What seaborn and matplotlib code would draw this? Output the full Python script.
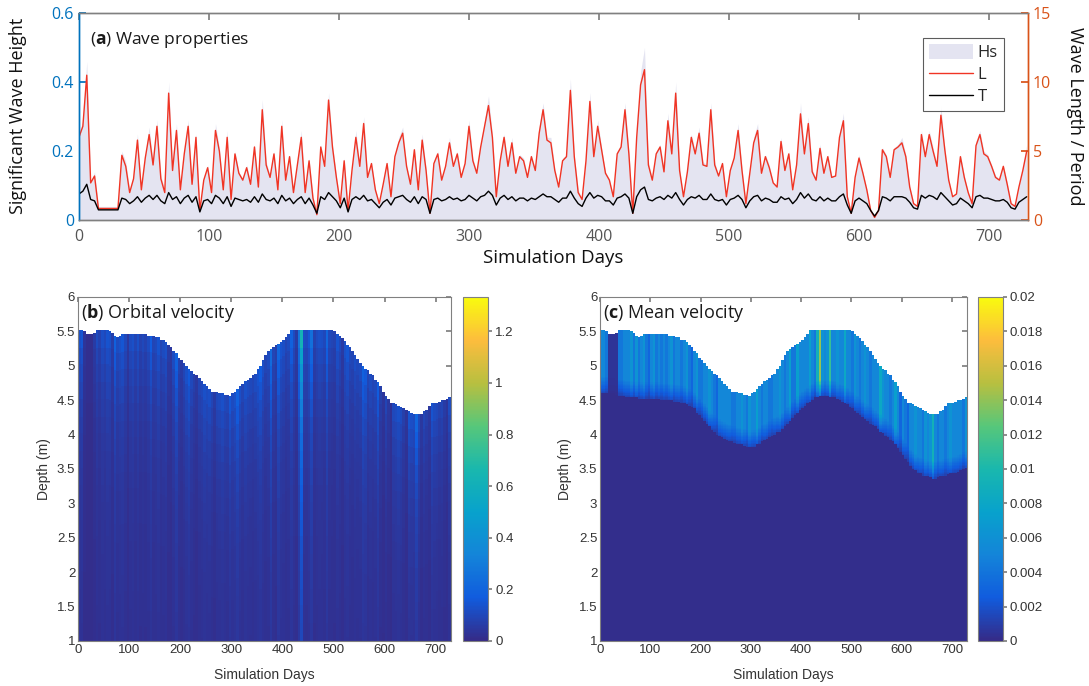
import numpy as np
import matplotlib
matplotlib.use("Agg")
import matplotlib.pyplot as plt
from matplotlib.colors import LinearSegmentedColormap
from matplotlib.patches import Patch
from matplotlib.lines import Line2D
from matplotlib.ticker import FuncFormatter, MultipleLocator
import seaborn as sns

wave_days = np.arange(0, 730, 3)

wave_length = [
    6.0, 6.8, 10.5, 2.7, 3.2, 0.85, 0.85, 0.85, 0.85, 0.85,
    0.85, 4.7, 3.9, 2.0, 3.0, 5.8, 2.2, 4.5, 6.2, 4.0,
    6.8, 3.0, 2.0, 9.2, 3.6, 6.5, 2.2, 4.8, 6.8, 2.6,
    6.0, 0.7, 2.9, 3.8, 2.0, 6.5, 5.0, 2.2, 6.0, 1.5,
    4.8, 3.4, 2.9, 3.8, 2.6, 5.3, 2.4, 8.0, 4.0, 3.1,
    4.8, 2.2, 6.8, 2.9, 4.6, 2.0, 4.0, 6.0, 2.0, 4.3,
    1.6, 0.4, 5.3, 3.9, 8.7, 5.3, 3.1, 1.2, 4.3, 0.7,
    3.6, 6.0, 3.9, 7.0, 3.1, 4.1, 2.2, 1.2, 2.6, 4.1,
    1.7, 4.6, 5.6, 6.3, 3.9, 2.6, 5.1, 2.2, 5.8, 3.6,
    0.5, 4.1, 4.8, 2.9, 3.9, 5.6, 3.9, 4.8, 3.1, 4.1,
    6.8, 4.3, 3.4, 5.3, 6.8, 8.3, 6.0, 1.7, 4.3, 6.0,
    3.9, 5.6, 3.4, 4.6, 4.3, 3.1, 4.6, 3.6, 6.3, 8.0,
    5.8, 5.6, 3.6, 2.4, 4.3, 4.6, 9.4, 4.6, 2.0, 1.5,
    4.3, 8.6, 4.6, 6.8, 5.1, 3.4, 2.9, 1.7, 4.8, 5.3,
    8.0, 4.8, 0.5, 6.0, 9.8, 10.9, 4.0, 2.9, 4.8, 5.3,
    3.5, 7.2, 4.8, 9.2, 3.6, 1.7, 3.5, 6.0, 4.8, 6.3,
    4.0, 3.9, 8.0, 4.0, 3.2, 4.1, 1.7, 3.6, 4.5, 6.5,
    3.6, 1.2, 3.4, 5.6, 6.5, 3.4, 4.6, 3.8, 2.7, 2.4,
    5.7, 3.6, 4.8, 2.2, 4.0, 7.7, 4.8, 7.0, 3.5, 2.9,
    5.2, 3.4, 4.6, 3.1, 3.2, 6.0, 7.2, 1.7, 0.5, 3.1,
    4.5, 3.4, 2.2, 0.7, 0.2, 0.7, 5.1, 4.6, 3.1, 5.1,
    5.3, 5.6, 4.6, 2.4, 1.2, 1.0, 6.2, 4.6, 6.2, 5.0,
    3.9, 7.6, 5.1, 2.9, 1.7, 1.9, 4.6, 3.1, 2.0, 1.2,
    5.4, 6.2, 4.8, 4.6, 3.9, 3.1, 2.9, 3.9, 2.6, 1.2,
    1.0, 2.4, 3.6, 5.0,
]

wave_period = [
    1.9, 2.1, 2.6, 1.5, 1.4, 0.75, 0.75, 0.75, 0.75, 0.75,
    0.75, 1.6, 1.5, 1.2, 1.4, 1.7, 1.3, 1.6, 1.8, 1.5,
    1.8, 1.4, 1.2, 2.0, 1.5, 1.7, 1.2, 1.6, 1.8, 1.3,
    1.7, 0.6, 1.4, 1.5, 1.2, 1.8, 1.6, 1.2, 1.7, 1.0,
    1.6, 1.5, 1.4, 1.5, 1.3, 1.7, 1.3, 1.9, 1.5, 1.4,
    1.6, 1.2, 1.8, 1.4, 1.6, 1.2, 1.5, 1.7, 1.2, 1.6,
    1.1, 0.5, 1.7, 1.5, 2.0, 1.7, 1.4, 0.9, 1.6, 0.6,
    1.5, 1.7, 1.5, 1.8, 1.4, 1.5, 1.2, 0.9, 1.3, 1.5,
    1.1, 1.6, 1.7, 1.8, 1.5, 1.3, 1.7, 1.2, 1.7, 1.5,
    0.5, 1.5, 1.6, 1.4, 1.5, 1.7, 1.5, 1.6, 1.4, 1.5,
    1.8, 1.6, 1.4, 1.7, 1.8, 2.1, 1.8, 1.1, 1.6, 1.8,
    1.5, 1.7, 1.4, 1.6, 1.6, 1.4, 1.6, 1.5, 1.7, 1.9,
    1.7, 1.7, 1.5, 1.3, 1.6, 1.6, 2.1, 1.6, 1.2, 1.0,
    1.6, 2.0, 1.6, 1.8, 1.7, 1.4, 1.4, 1.1, 1.6, 1.7,
    1.9, 1.6, 0.5, 1.7, 2.2, 2.4, 1.5, 1.4, 1.6, 1.7,
    1.5, 1.8, 1.6, 2.0, 1.5, 1.1, 1.5, 1.7, 1.6, 1.8,
    1.5, 1.5, 1.9, 1.5, 1.4, 1.5, 1.1, 1.5, 1.6, 1.8,
    1.5, 0.9, 1.4, 1.7, 1.8, 1.4, 1.6, 1.5, 1.3, 1.3,
    1.7, 1.5, 1.6, 1.2, 1.5, 2.0, 1.6, 1.9, 1.5, 1.4,
    1.7, 1.4, 1.6, 1.4, 1.4, 1.7, 1.9, 1.1, 0.5, 1.4,
    1.6, 1.4, 1.2, 0.7, 0.3, 0.7, 1.7, 1.6, 1.4, 1.7,
    1.7, 1.7, 1.6, 1.3, 0.9, 0.8, 1.8, 1.6, 1.8, 1.7,
    1.5, 2.0, 1.7, 1.4, 1.1, 1.2, 1.6, 1.4, 1.2, 0.9,
    1.7, 1.8, 1.6, 1.6, 1.5, 1.4, 1.4, 1.5, 1.3, 0.9,
    0.8, 1.3, 1.5, 1.7,
]

wave_height = [
    0.25, 0.29, 0.46, 0.11, 0.14, 0.04, 0.04, 0.04, 0.04, 0.04,
    0.04, 0.20, 0.17, 0.09, 0.13, 0.25, 0.09, 0.19, 0.27, 0.17,
    0.29, 0.13, 0.09, 0.40, 0.15, 0.28, 0.09, 0.20, 0.29, 0.11,
    0.25, 0.03, 0.12, 0.16, 0.09, 0.28, 0.21, 0.09, 0.26, 0.06,
    0.20, 0.14, 0.12, 0.16, 0.11, 0.22, 0.10, 0.35, 0.17, 0.13,
    0.20, 0.09, 0.29, 0.12, 0.19, 0.09, 0.17, 0.26, 0.09, 0.18,
    0.07, 0.02, 0.22, 0.16, 0.37, 0.22, 0.13, 0.05, 0.18, 0.03,
    0.15, 0.26, 0.16, 0.30, 0.13, 0.17, 0.09, 0.05, 0.11, 0.17,
    0.07, 0.19, 0.24, 0.27, 0.16, 0.11, 0.21, 0.09, 0.25, 0.15,
    0.02, 0.17, 0.20, 0.12, 0.16, 0.24, 0.16, 0.20, 0.13, 0.17,
    0.29, 0.18, 0.14, 0.22, 0.29, 0.36, 0.25, 0.07, 0.18, 0.25,
    0.16, 0.24, 0.14, 0.19, 0.18, 0.13, 0.19, 0.15, 0.27, 0.34,
    0.24, 0.24, 0.15, 0.10, 0.18, 0.19, 0.41, 0.19, 0.09, 0.06,
    0.18, 0.37, 0.19, 0.29, 0.21, 0.14, 0.12, 0.07, 0.20, 0.22,
    0.34, 0.20, 0.02, 0.25, 0.43, 0.50, 0.17, 0.12, 0.20, 0.22,
    0.15, 0.31, 0.20, 0.40, 0.15, 0.07, 0.15, 0.25, 0.20, 0.27,
    0.17, 0.16, 0.34, 0.17, 0.13, 0.17, 0.07, 0.15, 0.19, 0.28,
    0.15, 0.05, 0.14, 0.24, 0.28, 0.14, 0.19, 0.16, 0.11, 0.10,
    0.24, 0.15, 0.20, 0.09, 0.17, 0.34, 0.20, 0.30, 0.15, 0.12,
    0.22, 0.14, 0.19, 0.13, 0.13, 0.25, 0.31, 0.07, 0.02, 0.13,
    0.19, 0.14, 0.09, 0.03, 0.01, 0.03, 0.21, 0.19, 0.13, 0.21,
    0.22, 0.24, 0.19, 0.10, 0.05, 0.04, 0.26, 0.19, 0.26, 0.21,
    0.16, 0.33, 0.21, 0.12, 0.07, 0.08, 0.19, 0.13, 0.08, 0.05,
    0.23, 0.26, 0.20, 0.19, 0.16, 0.13, 0.12, 0.16, 0.11, 0.05,
    0.04, 0.10, 0.15, 0.22,
]

# ---------------- (b)/(c) velocity profiles, 5-day columns ----------------
col_edges = np.arange(0, 735, 5)

# water surface (m) per column
surface_level = [
    5.51, 5.51, 5.50, 5.47, 5.46, 5.47, 5.48, 5.51, 5.51, 5.51,
    5.51, 5.51, 5.50, 5.48, 5.44, 5.42, 5.43, 5.45, 5.46, 5.46,
    5.46, 5.46, 5.46, 5.46, 5.46, 5.45, 5.45, 5.44, 5.44, 5.43,
    5.42, 5.41, 5.39, 5.37, 5.34, 5.31, 5.27, 5.22, 5.17, 5.12,
    5.07, 5.03, 4.99, 4.95, 4.91, 4.88, 4.85, 4.82, 4.78, 4.74,
    4.69, 4.65, 4.63, 4.62, 4.61, 4.60, 4.59, 4.58, 4.57, 4.56,
    4.59, 4.62, 4.66, 4.69, 4.73, 4.77, 4.80, 4.82, 4.85, 4.88,
    4.95, 5.00, 5.08, 5.15, 5.21, 5.24, 5.27, 5.29, 5.32, 5.34,
    5.38, 5.42, 5.47, 5.51, 5.51, 5.51, 5.51, 5.51, 5.51, 5.51,
    5.51, 5.51, 5.51, 5.51, 5.51, 5.51, 5.51, 5.51, 5.51, 5.51,
    5.50, 5.47, 5.44, 5.40, 5.36, 5.31, 5.27, 5.22, 5.16, 5.10,
    5.04, 5.00, 4.97, 4.93, 4.89, 4.85, 4.80, 4.75, 4.69, 4.62,
    4.56, 4.52, 4.47, 4.45, 4.43, 4.42, 4.40, 4.38, 4.36, 4.33,
    4.32, 4.31, 4.30, 4.30, 4.31, 4.33, 4.36, 4.42, 4.45, 4.46,
    4.47, 4.48, 4.49, 4.50, 4.52, 4.54,
]

# orbital velocity near the surface (m/s) per column
orbital_top = [
    0.12, 0.14, 0.03, 0.01, 0.01, 0.01, 0.05, 0.10, 0.07, 0.11,
    0.09, 0.13, 0.12, 0.06, 0.18, 0.10, 0.12, 0.14, 0.09, 0.04,
    0.10, 0.12, 0.08, 0.12, 0.07, 0.09, 0.07, 0.10, 0.16, 0.08,
    0.09, 0.13, 0.08, 0.10, 0.12, 0.05, 0.04, 0.10, 0.18, 0.07,
    0.05, 0.08, 0.12, 0.15, 0.09, 0.06, 0.04, 0.08, 0.09, 0.12,
    0.10, 0.11, 0.08, 0.05, 0.09, 0.10, 0.12, 0.09, 0.08, 0.14,
    0.10, 0.12, 0.18, 0.11, 0.08, 0.12, 0.10, 0.09, 0.08, 0.10,
    0.13, 0.16, 0.11, 0.08, 0.10, 0.22, 0.08, 0.06, 0.20, 0.13,
    0.11, 0.08, 0.10, 0.18, 0.10, 0.05, 0.26, 0.62, 0.11, 0.10,
    0.14, 0.24, 0.07, 0.10, 0.12, 0.11, 0.09, 0.20, 0.09, 0.08,
    0.07, 0.13, 0.09, 0.05, 0.12, 0.14, 0.09, 0.08, 0.11, 0.09,
    0.10, 0.18, 0.15, 0.08, 0.10, 0.08, 0.09, 0.16, 0.06, 0.03,
    0.08, 0.04, 0.02, 0.09, 0.10, 0.12, 0.10, 0.06, 0.03, 0.13,
    0.11, 0.10, 0.20, 0.09, 0.04, 0.08, 0.06, 0.04, 0.13, 0.10,
    0.09, 0.07, 0.08, 0.05, 0.03, 0.10,
]
# relative orbital velocity per 0.25 m below the surface
orbital_decay = [1.0, 0.82, 0.68, 0.57, 0.48, 0.41, 0.36, 0.32, 0.29, 0.26,
                 0.24, 0.22, 0.20, 0.19, 0.18, 0.17, 0.16, 0.15, 0.14, 0.13]

# mean velocity in the surface band (m/s) per column
mean_top = [
    0.005, 0.005, 0.004, 0.0003, 0.0003, 0.0003, 0.0003, 0.004, 0.004, 0.005,
    0.005, 0.005, 0.006, 0.004, 0.006, 0.004, 0.005, 0.006, 0.004, 0.003,
    0.005, 0.006, 0.004, 0.005, 0.004, 0.005, 0.004, 0.005, 0.006, 0.004,
    0.005, 0.005, 0.004, 0.005, 0.006, 0.004, 0.003, 0.005, 0.006, 0.004,
    0.004, 0.005, 0.005, 0.006, 0.005, 0.004, 0.003, 0.005, 0.005, 0.005,
    0.005, 0.005, 0.004, 0.004, 0.005, 0.005, 0.006, 0.005, 0.004, 0.006,
    0.005, 0.005, 0.007, 0.005, 0.004, 0.005, 0.005, 0.004, 0.004, 0.005,
    0.005, 0.006, 0.005, 0.004, 0.005, 0.007, 0.004, 0.004, 0.007, 0.005,
    0.005, 0.005, 0.005, 0.007, 0.005, 0.004, 0.009, 0.014, 0.006, 0.005,
    0.006, 0.011, 0.005, 0.005, 0.006, 0.005, 0.005, 0.008, 0.005, 0.005,
    0.004, 0.006, 0.005, 0.004, 0.005, 0.006, 0.005, 0.004, 0.005, 0.005,
    0.005, 0.008, 0.006, 0.005, 0.005, 0.004, 0.005, 0.007, 0.005, 0.003,
    0.005, 0.004, 0.003, 0.005, 0.005, 0.006, 0.005, 0.005, 0.004, 0.006,
    0.005, 0.006, 0.009, 0.005, 0.004, 0.005, 0.005, 0.004, 0.005, 0.006,
    0.005, 0.005, 0.005, 0.005, 0.004, 0.006,
]

# lower edge (m) of the mean-velocity band per column
mean_band_bottom = [
    4.60, 4.60, 4.60, 4.60, 4.60, 4.60, 4.58, 4.57, 4.56, 4.56,
    4.55, 4.55, 4.54, 4.53, 4.53, 4.52, 4.52, 4.52, 4.52, 4.52,
    4.52, 4.52, 4.52, 4.52, 4.51, 4.51, 4.50, 4.50, 4.50, 4.49,
    4.49, 4.48, 4.47, 4.46, 4.44, 4.42, 4.40, 4.37, 4.33, 4.29,
    4.25, 4.21, 4.16, 4.11, 4.07, 4.04, 4.01, 3.98, 3.96, 3.94,
    3.92, 3.91, 3.89, 3.88, 3.87, 3.86, 3.85, 3.84, 3.83, 3.82,
    3.82, 3.83, 3.85, 3.87, 3.90, 3.92, 3.94, 3.96, 3.99, 4.01,
    4.03, 4.05, 4.08, 4.12, 4.16, 4.20, 4.24, 4.28, 4.32, 4.36,
    4.39, 4.42, 4.45, 4.48, 4.51, 4.53, 4.55, 4.56, 4.56, 4.56,
    4.56, 4.55, 4.55, 4.54, 4.52, 4.50, 4.48, 4.46, 4.44, 4.41,
    4.38, 4.35, 4.32, 4.29, 4.26, 4.23, 4.20, 4.17, 4.14, 4.11,
    4.08, 4.05, 4.02, 3.99, 3.96, 3.92, 3.89, 3.85, 3.80, 3.75,
    3.70, 3.65, 3.60, 3.55, 3.51, 3.48, 3.45, 3.43, 3.41, 3.40,
    3.39, 3.38, 3.37, 3.37, 3.38, 3.39, 3.40, 3.41, 3.42, 3.43,
    3.44, 3.45, 3.46, 3.48, 3.50, 3.52,
]

# MATLAB-like parula colormap
parula = LinearSegmentedColormap.from_list("parula", [
    (0.000, (0.2081, 0.1663, 0.5292)),
    (0.125, (0.0650, 0.3600, 0.8700)),
    (0.250, (0.0780, 0.5200, 0.8500)),
    (0.375, (0.0300, 0.6350, 0.8000)),
    (0.500, (0.1000, 0.7200, 0.6800)),
    (0.625, (0.3400, 0.7800, 0.4800)),
    (0.750, (0.7200, 0.7500, 0.2500)),
    (0.875, (0.9900, 0.7400, 0.2400)),
    (1.000, (0.9763, 0.9831, 0.0538)),
])

BLUE = "#0072BD"
ORANGE = "#D95319"
GRAY = "#808080"
MYRIAD = ["Open Sans", "DejaVu Sans"]
ARIAL = ["Liberation Sans", "DejaVu Sans"]

sns.set_theme(style="white")
plt.rcParams["font.family"] = MYRIAD
plt.rcParams["mathtext.fontset"] = "custom"
plt.rcParams["mathtext.rm"] = "Open Sans"
plt.rcParams["mathtext.bf"] = "Open Sans:bold"

fmt = FuncFormatter(lambda v, p: f"{v:g}")

fig = plt.figure(figsize=(10.89, 6.86), dpi=100)

# ---------------- panel (a) ----------------
ax = fig.add_axes([0.0725, 0.679, 0.8715, 0.302])
ax2 = ax.twinx()
ax.fill_between(wave_days, 0, wave_height, color="#e4e4f1", lw=0)
sns.lineplot(x=wave_days, y=wave_length, ax=ax2, color="#f03424", lw=1.0)
sns.lineplot(x=wave_days, y=wave_period, ax=ax2, color="black", lw=1.0)

ax.set_xlim(0, 730)
ax.set_ylim(0, 0.6)
ax2.set_ylim(0, 15)
ax.set_xticks(range(0, 701, 100))
ax.set_yticks([0, 0.2, 0.4, 0.6])
ax2.set_yticks([0, 5, 10, 15])
ax.yaxis.set_major_formatter(fmt)
ax.set_xlabel("")
ax2.set_xlabel("")
ax.set_ylabel("")
ax2.set_ylabel("")
ax.tick_params(axis="x", direction="in", length=5, top=True, colors=GRAY,
               labelcolor="#555555", labelsize=11.5, pad=6)
ax.tick_params(axis="y", direction="in", length=5, colors=BLUE, labelsize=11.5)
ax2.tick_params(axis="y", direction="in", length=5, colors=ORANGE, labelsize=11.5)
for a in (ax, ax2):
    a.spines["top"].set_color(GRAY)
    a.spines["bottom"].set_color(GRAY)
    a.spines["left"].set_color(BLUE)
    a.spines["right"].set_color(ORANGE)
    for s in a.spines.values():
        s.set_linewidth(1.0)

ax.text(0.012, 0.92, r"($\mathbf{a}$) Wave properties", transform=ax.transAxes,
        fontsize=12.5, va="top", ha="left", color="#1a1a1a")

handles = [Patch(facecolor="#e4e4f1", edgecolor="none", label="Hs"),
           Line2D([], [], color="#f03424", lw=1.0, label="L"),
           Line2D([], [], color="black", lw=1.0, label="T")]
leg = ax2.legend(handles=handles, loc="upper right", bbox_to_anchor=(0.983, 0.92),
                 fontsize=12, frameon=True, fancybox=False, handlelength=2.6,
                 handleheight=1.0, handletextpad=0.3, borderpad=0.35,
                 labelspacing=0.3)
leg.get_frame().set_edgecolor("#333333")
leg.get_frame().set_linewidth(0.8)

fig.text(0.0165, 0.831, "Significant Wave Height", rotation=90, ha="center",
         va="center", fontsize=13, color="#111111")
fig.text(0.987, 0.831, "Wave Length / Period", rotation=270, ha="center",
         va="center", fontsize=13, color="#111111")
fig.text(0.508, 0.624, "Simulation Days", ha="center", va="center",
         fontsize=13.5, color="#111111")

# ---------------- velocity fields ----------------
depth_edges = np.linspace(1, 6, 251)
depth_mid = (depth_edges[:-1] + depth_edges[1:]) / 2
surf = np.array(surface_level)
below = surf[None, :] - depth_mid[:, None]

decay = np.array(orbital_decay)
idx = np.clip((np.maximum(below, 0) // 0.25).astype(int), 0, len(decay) - 1)
orb = 0.01 + np.array(orbital_top)[None, :] * decay[idx]
orb = np.ma.masked_where(below < 0, orb)

bb = np.array(mean_band_bottom)[None, :]
mt = np.array(mean_top)[None, :]
height_above = depth_mid[:, None] - bb
ramp = np.clip(height_above / 0.25, 0, 1)
mean = np.where(height_above >= 0, 0.0002 + mt * (0.25 + 0.75 * ramp), 0.0002)
mean = np.ma.masked_where(below < 0, mean)

panels = [
    ([0.0716, 0.0656, 0.3425, 0.5015], [0.4252, 0.0656, 0.023, 0.5015], orb,
     1.333, np.arange(0, 1.21, 0.2), "b", "Orbital velocity", 0.040, 0.243),
    ([0.551, 0.0656, 0.337, 0.5015], [0.898, 0.0656, 0.023, 0.5015], mean,
     0.02, np.arange(0, 0.0201, 0.002), "c", "Mean velocity", 0.519, 0.719),
]
for rect, crect, field, vmax, cticks, tag, title, ylab_x, xlab_x in panels:
    axp = fig.add_axes(rect)
    mesh = axp.pcolormesh(col_edges, depth_edges, field, cmap=parula,
                          vmin=0, vmax=vmax, shading="flat", rasterized=True)
    axp.set_xlim(0, 730)
    axp.set_ylim(1, 6)
    axp.set_xticks(range(0, 701, 100))
    axp.yaxis.set_major_locator(MultipleLocator(0.5))
    axp.yaxis.set_major_formatter(fmt)
    axp.tick_params(direction="in", length=3.5, top=True, right=True,
                    colors=GRAY, labelcolor="#333333", labelsize=9.5, pad=2)
    for lbl in axp.get_xticklabels() + axp.get_yticklabels():
        lbl.set_family(ARIAL)
    for s in axp.spines.values():
        s.set_color(GRAY)
        s.set_linewidth(0.8)
    axp.text(0.008, 0.985, rf"($\mathbf{{{tag}}}$) {title}", transform=axp.transAxes,
             fontsize=13, va="top", ha="left", color="#1a1a1a")

    cax = fig.add_axes(crect)
    cb = fig.colorbar(mesh, cax=cax)
    cb.set_ticks(cticks)
    cb.ax.yaxis.set_major_formatter(fmt)
    cb.ax.tick_params(direction="out", length=3, colors=GRAY,
                      labelcolor="#333333", labelsize=9.5, pad=2)
    for lbl in cb.ax.get_yticklabels():
        lbl.set_family(ARIAL)
    cb.outline.set_edgecolor(GRAY)
    cb.outline.set_linewidth(0.8)

    fig.text(ylab_x, 0.316, "Depth (m)", rotation=90, ha="center", va="center",
             fontsize=10, color="#333333", family=ARIAL)
    fig.text(xlab_x, 0.016, "Simulation Days", ha="center", va="center",
             fontsize=10, color="#333333", family=ARIAL)

fig.savefig("out.png", dpi=100)
